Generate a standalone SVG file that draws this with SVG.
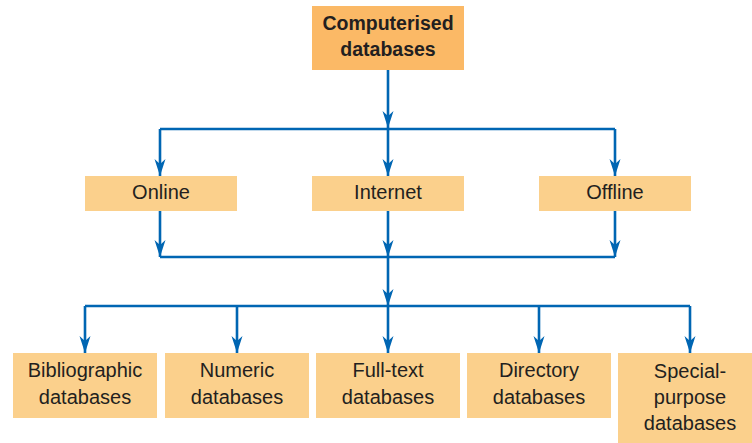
<svg xmlns="http://www.w3.org/2000/svg" width="752" height="443" viewBox="0 0 752 443">
<defs>
<style>
.box{fill:#FBD08C}
.top{fill:#FBB966}
.t{font-family:"Liberation Sans",Arial,sans-serif;font-size:20px;fill:#231F20;text-anchor:middle}
.b{font-weight:bold;font-size:19.5px}
.c{fill:none;stroke:#0066B3;stroke-width:2.6}
.a{marker-end:url(#arr)}
</style>
<marker id="arr" markerUnits="userSpaceOnUse" viewBox="-18 -6 19 12" refX="0" refY="0" markerWidth="19" markerHeight="12" orient="auto">
<path fill="#0066B3" d="M0,0 L-17,-5.5 L-12,0 L-17,5.5 Z"/>
</marker>
</defs>
<rect width="752" height="443" fill="#FFFFFF"/>
<g id="connectors">
<path class="c a" d="M388,70 V128"/>
<path class="c" d="M160,129 H615"/>
<path class="c a" d="M160,129 V176"/>
<path class="c a" d="M388,129 V176"/>
<path class="c a" d="M615,129 V176"/>
<path class="c a" d="M160,211 V257"/>
<path class="c a" d="M388,211 V257"/>
<path class="c a" d="M615,211 V257"/>
<path class="c" d="M160,257 H615"/>
<path class="c a" d="M388,257 V306"/>
<path class="c" d="M85,306 H690"/>
<path class="c a" d="M85,306 V353"/>
<path class="c a" d="M237,306 V353"/>
<path class="c a" d="M388,306 V353"/>
<path class="c a" d="M539,306 V353"/>
<path class="c a" d="M690,306 V353"/>
</g>
<g id="computerised">
<rect class="top" x="312" y="6" width="152" height="64"/>
<text class="t b" x="388" y="30">Computerised</text>
<text class="t b" x="388" y="56">databases</text>
</g>
<g id="online">
<rect class="box" x="85" y="176" width="152" height="35"/>
<text class="t" x="161" y="199">Online</text>
</g>
<g id="internet">
<rect class="box" x="312" y="176" width="152" height="35"/>
<text class="t" x="388" y="199">Internet</text>
</g>
<g id="offline">
<rect class="box" x="539" y="176" width="152" height="35"/>
<text class="t" x="615" y="199">Offline</text>
</g>
<g id="bibliographic">
<rect class="box" x="13" y="353" width="144" height="65"/>
<text class="t" x="85" y="377">Bibliographic</text>
<text class="t" x="85" y="404">databases</text>
</g>
<g id="numeric">
<rect class="box" x="165" y="353" width="144" height="65"/>
<text class="t" x="237" y="377">Numeric</text>
<text class="t" x="237" y="404">databases</text>
</g>
<g id="fulltext">
<rect class="box" x="316" y="353" width="144" height="65"/>
<text class="t" x="388" y="377">Full-text</text>
<text class="t" x="388" y="404">databases</text>
</g>
<g id="directory">
<rect class="box" x="467" y="353" width="144" height="65"/>
<text class="t" x="539" y="377">Directory</text>
<text class="t" x="539" y="404">databases</text>
</g>
<g id="special">
<rect class="box" x="618" y="353" width="134" height="90"/>
<text class="t" x="690" y="378">Special-</text>
<text class="t" x="690" y="404">purpose</text>
<text class="t" x="690" y="430">databases</text>
</g>
</svg>
